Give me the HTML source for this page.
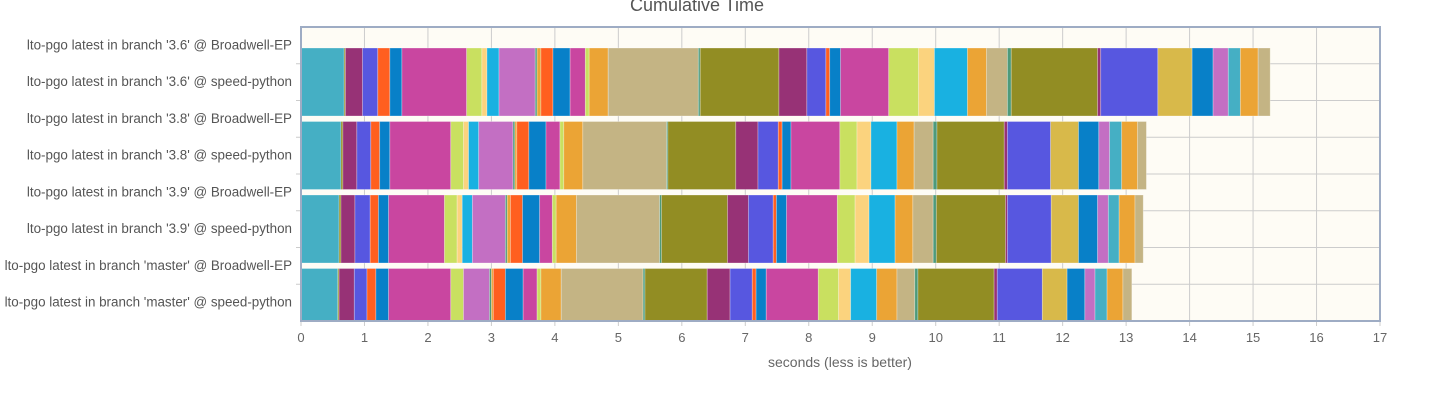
<!DOCTYPE html>
<html><head><meta charset="utf-8"><style>
body{margin:0;background:#fff;font-family:"Liberation Sans",sans-serif}
svg text{font-family:"Liberation Sans",sans-serif}
</style></head><body>
<svg id="chart" width="1438" height="403" xmlns="http://www.w3.org/2000/svg">
<defs><clipPath id="plotclip"><rect x="301" y="27" width="1079" height="294"/></clipPath></defs>
<text x="697" y="11" text-anchor="middle" font-size="18" fill="#555">Cumulative Time</text>
<rect x="301" y="27" width="1079" height="294" fill="#fefcf5"/>
<g id="grid"></g>
<g id="bars" clip-path="url(#plotclip)"></g>
<rect x="301" y="27" width="1079" height="294" fill="none" stroke="#9eacc4" stroke-width="2"/>
<g id="axes"></g>
<text x="840" y="367" text-anchor="middle" font-size="14" fill="#666">seconds (less is better)</text>
</svg>
<script>
const categories = ["lto-pgo latest in branch '3.6' @ Broadwell-EP","lto-pgo latest in branch '3.6' @ speed-python","lto-pgo latest in branch '3.8' @ Broadwell-EP","lto-pgo latest in branch '3.8' @ speed-python","lto-pgo latest in branch '3.9' @ Broadwell-EP","lto-pgo latest in branch '3.9' @ speed-python","lto-pgo latest in branch 'master' @ Broadwell-EP","lto-pgo latest in branch 'master' @ speed-python"];
const xTicks = [0,1,2,3,4,5,6,7,8,9,10,11,12,13,14,15,16,17];
const bar36 = [0.68,0.02,0.27,0.24,0.19,0.19,1.02,0.24,0.08,0.19,0.57,0.03,0.06,0.19,0.27,0.24,0.06,0.30,1.42,0.03,1.24,0.44,0.30,0.06,0.17,0.76,0.47,0.25,0.52,0.30,0.33,0.06,1.36,0.05,0.90,0.54,0.33,0.24,0.19,0.28,0.19];
const bar38 = [0.63,0.03,0.22,0.22,0.14,0.16,0.96,0.20,0.08,0.16,0.54,0.03,0.03,0.19,0.27,0.22,0.06,0.30,1.32,0.02,1.07,0.35,0.32,0.06,0.14,0.77,0.27,0.22,0.41,0.27,0.30,0.06,1.06,0.05,0.68,0.44,0.32,0.17,0.19,0.25,0.14];
const bar39 = [0.60,0.03,0.22,0.24,0.13,0.16,0.88,0.20,0.08,0.16,0.52,0.03,0.05,0.19,0.27,0.20,0.06,0.32,1.31,0.03,1.04,0.33,0.39,0.05,0.16,0.80,0.28,0.22,0.41,0.28,0.32,0.05,1.09,0.03,0.69,0.43,0.30,0.17,0.17,0.25,0.13];
const barMaster = [0.58,0.02,0.24,0.20,0.14,0.20,0.98,0.20,0,0,0.41,0.03,0.03,0.19,0.28,0.22,0.06,0.32,1.29,0.03,0.98,0.36,0.35,0.06,0.16,0.82,0.32,0.19,0.41,0.32,0.28,0.05,1.20,0.05,0.71,0.39,0.28,0.16,0.19,0.25,0.14];
const barSeries = [bar36, bar38, bar39, barMaster];
const C={teal:"#45afc4",olive:"#928d23",purple:"#973276",blue:"#5757e0",orange:"#ff5f1f",blue2:"#0880c8",magenta:"#c946a0",lime:"#c9e060",ly:"#fbd37e",cyan:"#19b1e1",orchid:"#c36fc3",green:"#4e9a7a",orange2:"#eba435",tan:"#c4b484",gold:"#d8b94a"};
const colors=[C.teal,C.olive,C.purple,C.blue,C.orange,C.blue2,C.magenta,C.lime,C.ly,C.cyan,C.orchid,C.green,C.orange2,C.orange,C.blue2,C.magenta,C.lime,C.orange2,C.tan,C.green,C.olive,C.purple,C.blue,C.orange,C.blue2,C.magenta,C.lime,C.ly,C.cyan,C.orange2,C.tan,C.green,C.olive,C.purple,C.blue,C.gold,C.blue2,C.orchid,C.teal,C.orange2,C.tan];
const NS="http://www.w3.org/2000/svg";
const X0=301,X1=1380,Y0=27,Y1=321;
const xs=v=>X0+(v-xTicks[0])/(xTicks[xTicks.length-1]-xTicks[0])*(X1-X0);
const band=(Y1-Y0)/categories.length;
const grid=document.getElementById('grid'),axes=document.getElementById('axes'),bars=document.getElementById('bars');
function mk(tag,attrs,parent){const e=document.createElementNS(NS,tag);for(const k in attrs)e.setAttribute(k,attrs[k]);parent.appendChild(e);return e;}
xTicks.forEach(t=>{
  const g=mk('line',{x1:xs(t),x2:xs(t),y1:Y0,y2:Y1+5,stroke:'#cccccc','stroke-width':1},grid);
  
  
  const tx=mk('text',{x:xs(t),y:342,'text-anchor':'middle','font-size':13,fill:'#666'},axes);
  tx.textContent=t;
  
  
});
categories.forEach((c,i)=>{
  const y=Y0+band*(i+1);
  if(i<categories.length-1){
    const l=mk('line',{x1:X0-5,x2:X1,y1:y,y2:y,stroke:'#cccccc','stroke-width':1},grid);
    
    
  }
  const tx=mk('text',{x:292,y:Y0+band*(i+0.5)+4,'text-anchor':'end','font-size':13.4,fill:'#555'},axes);
  tx.textContent=c;
  
  
});
barSeries.forEach((vals,b)=>{
  const top=Y0+band*2*b+21,h=68;
  let cum=0;
  vals.forEach((v,i)=>{
    if(v<=0)return;
    const r=mk('rect',{x:xs(cum),y:top,width:xs(cum+v)-xs(cum),height:h,fill:colors[i],stroke:'rgba(255,255,255,0.35)','stroke-width':0.8},bars);
    
    
    cum+=v;
  });
});
</script>
</body></html>
